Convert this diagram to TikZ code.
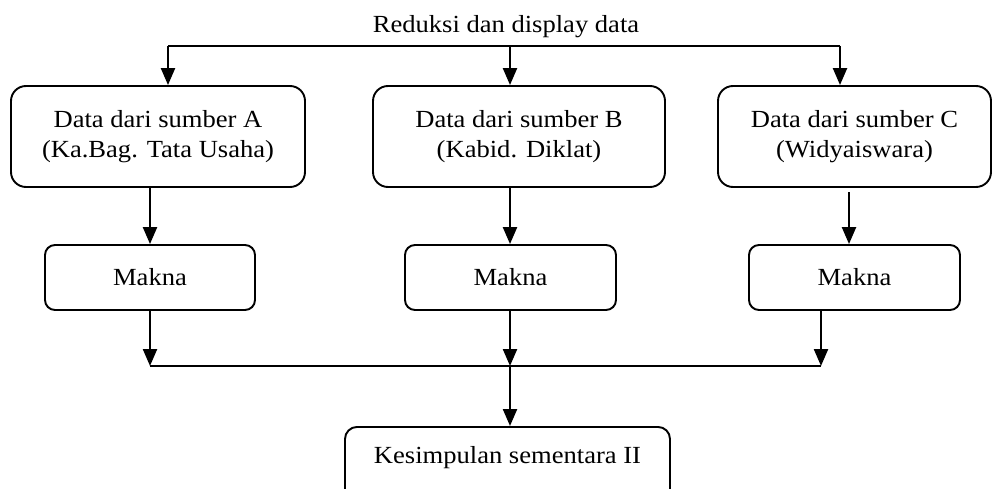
\documentclass[tikz,border=0pt]{standalone}
\usepackage{fontspec}
\setmainfont{Liberation Serif}[FakeStretch=1.08]
\usetikzlibrary{arrows.meta}
\begin{document}
\begin{tikzpicture}[x=1pt,y=-1pt,
  font=\fontsize{24.6}{30}\selectfont,
  bigbox/.style={draw, line width=1.9pt, rounded corners=15pt, align=center, inner sep=0pt},
  smallbox/.style={draw, line width=1.9pt, rounded corners=10pt, align=center, inner sep=0pt,
    minimum height=65pt},
  arr/.style={line width=2.3pt, -{Triangle[length=17pt,width=14pt]}},
  link/.style={line width=1.5pt}]
\clip (0,0) rectangle (992,489);
\useasboundingbox (0,0) rectangle (992,489);

% title above the distribution line
\node[anchor=base] (title) at (506,33) {Reduksi dan display data};

% source boxes
\node[bigbox, minimum width=294pt, minimum height=101pt] (A) at (158,136.5)
  {Data dari sumber A\\(Ka.Bag. Tata Usaha)};
\node[bigbox, minimum width=292pt, minimum height=101pt] (B) at (519,136.5)
  {Data dari sumber B\\(Kabid. Diklat)};
\node[bigbox, minimum width=273pt, minimum height=101pt] (C) at (854.5,136.5)
  {Data dari sumber C\\(Widyaiswara)};

% meaning boxes
\node[smallbox, minimum width=210pt] (MA) at (150,277.5) {Makna};
\node[smallbox, minimum width=211pt] (MB) at (510.5,277.5) {Makna};
\node[smallbox, minimum width=211pt] (MC) at (854.5,277.5) {Makna};

% conclusion box
\node[bigbox, rounded corners=12pt, minimum width=325pt, minimum height=80pt, anchor=north]
  (K) at (507.5,426) {};
\node[anchor=base] (Ktext) at (507.5,463) {Kesimpulan sementara II};

% distribution line to the sources
\coordinate (ta) at (168,46);
\coordinate (tb) at (510,46);
\coordinate (tc) at (840,46);
\draw[link] (ta) -- (tc);
\draw[arr] (ta) -- (ta |- A.north);
\draw[arr] (tb) -- (tb |- B.north);
\draw[arr] (tc) -- (tc |- C.north);

% sources to meanings
\coordinate (sa) at (150,187);
\coordinate (sb) at (510,187);
\coordinate (sc) at (849,192);
\draw[arr] (sa) -- (sa |- MA.north);
\draw[arr] (sb) -- (sb |- MB.north);
\draw[arr] (sc) -- (sc |- MC.north);

% meanings gathered into the conclusion
\coordinate (ma) at (150,310);
\coordinate (mb) at (510,310);
\coordinate (mc) at (821,310);
\coordinate (ja) at (150,366);
\coordinate (jb) at (510,366);
\coordinate (jc) at (821,366);
\draw[link] (ja) -- (jc);
\draw[arr] (ma) -- (ja);
\draw[arr] (mb) -- (jb);
\draw[arr] (mc) -- (jc);
\draw[arr] (jb) -- (jb |- K.north);
\end{tikzpicture}
\end{document}
